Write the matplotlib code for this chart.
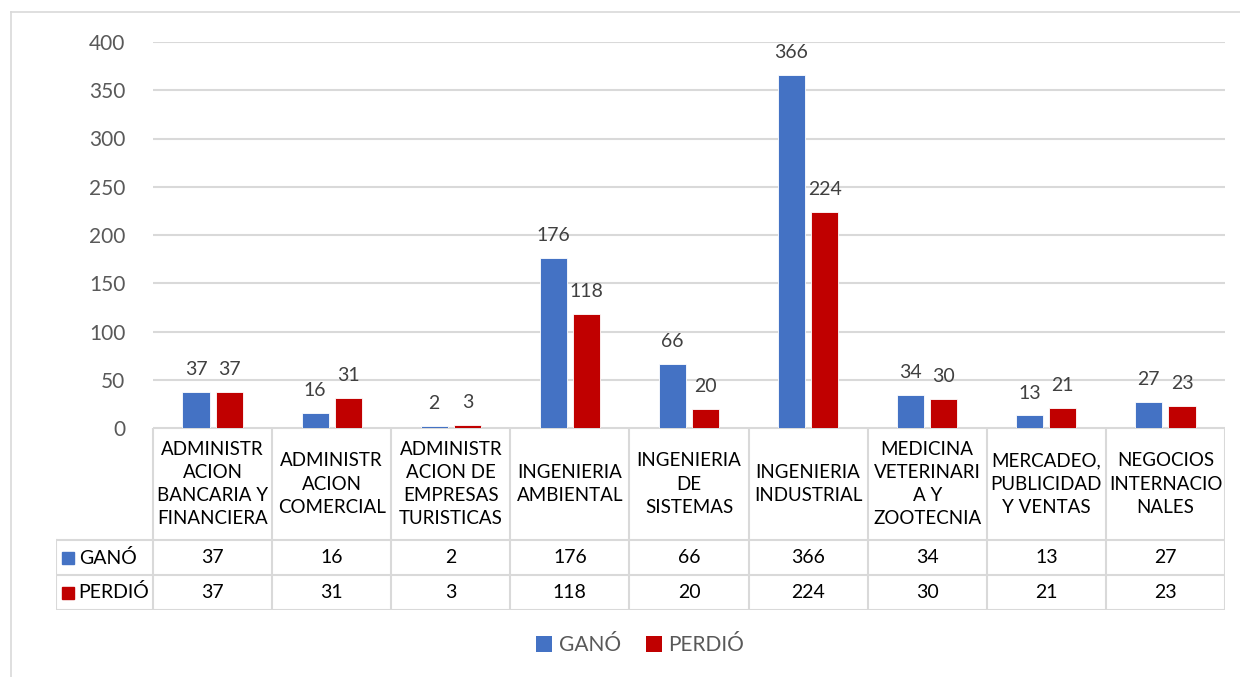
import matplotlib.pyplot as plt
from matplotlib.patches import Patch
from matplotlib.lines import Line2D
import numpy as np

plt.rcParams['font.family'] = ['Lato', 'DejaVu Sans']

carreras = [
    "ADMINISTR\nACION\nBANCARIA Y\nFINANCIERA",
    "ADMINISTR\nACION\nCOMERCIAL",
    "ADMINISTR\nACION DE\nEMPRESAS\nTURISTICAS",
    "INGENIERIA\nAMBIENTAL",
    "INGENIERIA\nDE\nSISTEMAS",
    "INGENIERIA\nINDUSTRIAL",
    "MEDICINA\nVETERINARI\nA Y\nZOOTECNIA",
    "MERCADEO,\nPUBLICIDAD\nY VENTAS",
    "NEGOCIOS\nINTERNACIO\nNALES",
]
gano = [37, 16, 2, 176, 66, 366, 34, 13, 27]
perdio = [37, 31, 3, 118, 20, 224, 30, 21, 23]

series = ["GANÓ", "PERDIÓ"]
colores = ["#4472C4", "#C00000"]

W, H = 1240, 677
fig = plt.figure(figsize=(W / 100, H / 100), dpi=100)


def caja(x0, y0, x1, y1):
    # pixeles (origen arriba-izquierda) -> fraccion de figura
    return [x0 / W, 1 - y1 / H, (x1 - x0) / W, (y1 - y0) / H]


# marco exterior (solo arriba e izquierda visibles)
fig.add_artist(Line2D([11 / W, 1], [1 - 12 / H, 1 - 12 / H], color="#D9D9D9", lw=1.2))
fig.add_artist(Line2D([11 / W, 11 / W], [0, 1 - 12 / H], color="#D9D9D9", lw=1.2))

# grafico de barras
ax = fig.add_axes(caja(153, 42, 1225, 428))
x = np.arange(len(carreras))
ancho = 0.227
off = 0.139
for vals, col, d in [(gano, colores[0], -off), (perdio, colores[1], off)]:
    barras = ax.bar(x + d, vals, ancho, color=col, edgecolor="white", linewidth=0.6, zorder=3)
    ax.bar_label(barras, padding=10, fontsize=14, color="#404040")

ax.set_xlim(-0.5, len(carreras) - 0.5)
ax.set_ylim(0, 400)
ax.set_yticks(np.arange(0, 401, 50))
ax.tick_params(axis="y", length=0, labelsize=15, labelcolor="#595959", pad=20)
ax.set_xticks([])
ax.grid(axis="y", color="#D9D9D9", lw=1.5, zorder=0)
for s in ax.spines.values():
    s.set_visible(False)

# tabla de datos
cab = 112
fila = 35
col_lbl = 97 / 119.1
tx = fig.add_axes(caja(56, 428, 1225, 428 + cab + 2 * fila))
tx.set_xlim(-0.5 - col_lbl, len(carreras) - 0.5)
tx.set_ylim(cab + 2 * fila, 0)
tx.axis("off")

borde = dict(color="#D9D9D9", lw=1.5)
x_izq = -0.5 - col_lbl
x_der = len(carreras) - 0.5
tx.plot([-0.5, x_der], [0, 0], **borde)
for yy in [cab, cab + fila, cab + 2 * fila]:
    tx.plot([x_izq, x_der], [yy, yy], **borde)
tx.plot([x_izq, x_izq], [cab, cab + 2 * fila], **borde)
for k in range(len(carreras) + 1):
    tx.plot([k - 0.5, k - 0.5], [0, cab + 2 * fila], **borde)

for i, nombre in enumerate(carreras):
    tx.text(i, cab / 2, nombre, ha="center", va="center", fontsize=13.5,
            color="black", linespacing=1.45)

for r, (nombre, vals, col) in enumerate(zip(series, [gano, perdio], colores)):
    yc = cab + fila * r + fila / 2
    tx.plot(x_izq + 0.1, yc, marker="s", ms=9, color=col, linestyle="none")
    tx.text(x_izq + 0.19, yc, nombre, ha="left", va="center", fontsize=14, color="black")
    for i, v in enumerate(vals):
        tx.text(i, yc, str(v), ha="center", va="center", fontsize=14, color="black")

# leyenda
handles = [Patch(facecolor=c, label=s) for s, c in zip(series, colores)]
fig.legend(handles=handles, loc="center", bbox_to_anchor=(640 / W, 1 - 645 / H),
           ncol=2, frameon=False, fontsize=15, labelcolor="#595959",
           handlelength=0.8, handleheight=0.8, handletextpad=0.3, columnspacing=1.2)

fig.savefig("out.png", dpi=100)
